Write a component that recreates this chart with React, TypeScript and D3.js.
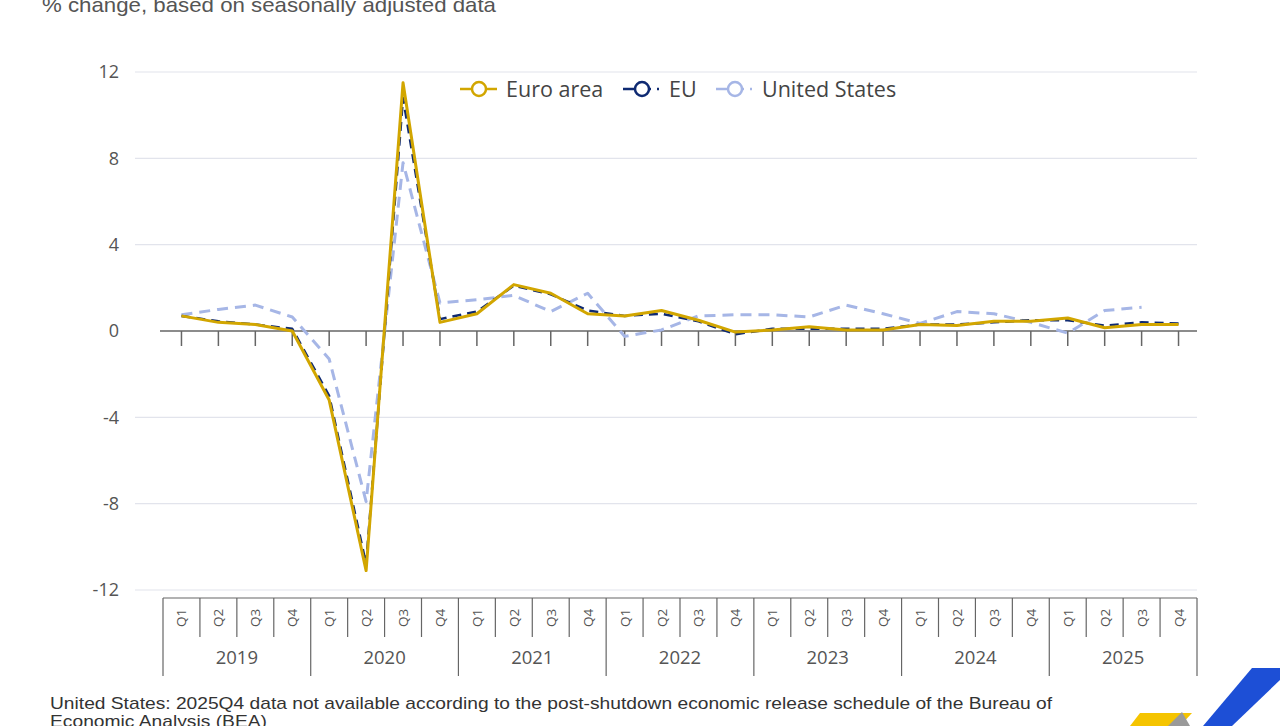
import { useRef, useEffect } from 'react'
import * as d3 from 'd3'

const years = ['2019', '2020', '2021', '2022', '2023', '2024', '2025']
const quarters = ['Q1', 'Q2', 'Q3', 'Q4']
const yTicks = [12, 8, 4, 0, -4, -8, -12]

const euroArea = [
	0.7, 0.4, 0.3, 0.0, -3.2, -11.1, 11.5, 0.4, 0.8, 2.15, 1.75, 0.8, 0.7, 0.95,
	0.5, -0.05, 0.05, 0.2, 0.05, 0.05, 0.3, 0.25, 0.45, 0.45, 0.6, 0.15, 0.3, 0.3,
]
const eu = [
	0.7, 0.45, 0.3, 0.1, -3.0, -10.8, 10.8, 0.55, 0.9, 2.1, 1.7, 0.95, 0.7, 0.8,
	0.45, -0.15, 0.1, 0.1, 0.1, 0.1, 0.3, 0.3, 0.4, 0.5, 0.5, 0.25, 0.4, 0.35,
]
const unitedStates: (number | null)[] = [
	0.75, 1.0, 1.2, 0.65, -1.3, -7.9, 7.8, 1.3, 1.45, 1.65, 0.9, 1.75, -0.25, 0.05,
	0.7, 0.75, 0.75, 0.65, 1.2, 0.8, 0.35, 0.9, 0.8, 0.4, -0.1, 0.95, 1.1, null,
]

const series = [
	{ name: 'Euro area', values: euroArea, color: '#d2a600', width: 3, dash: '' },
	{ name: 'EU', values: eu, color: '#0f2a72', width: 2.5, dash: '9,6' },
	{ name: 'United States', values: unitedStates, color: '#a6b6e6', width: 3, dash: '11,7' },
]

const App = () => {
	const svgRef = useRef<SVGSVGElement | null>(null)

	useEffect(() => {
		if (!svgRef.current) return
		const width = 1280
		const height = 726
		const left = 163
		const right = 1197
		const top = 72
		const bottom = 590

		const svg = d3.select(svgRef.current).attr('width', width).attr('height', height)
		svg.selectAll('*').remove()

		const cats = years.flatMap((y) => quarters.map((q) => `${y}${q}`))

		const x = d3.scaleBand().domain(cats).range([left, right]).padding(0)
		const y = d3.scaleLinear().domain([-12, 12]).range([bottom, top])
		const cx = (i: number) => x(cats[i])! + x.bandwidth() / 2

		// subtitle (cut at top in the original)
		svg
			.append('text')
			.attr('x', 42)
			.attr('y', 12)
			.attr('font-family', 'Liberation Sans, Arial, sans-serif')
			.attr('font-size', 21)
			.attr('fill', '#555')
			.attr('textLength', 454)
			.attr('lengthAdjust', 'spacingAndGlyphs')
			.text('% change, based on seasonally adjusted data')

		// grid
		svg
			.append('g')
			.selectAll('line')
			.data(yTicks.filter((t) => t !== 0))
			.enter()
			.append('line')
			.attr('x1', 135)
			.attr('x2', right)
			.attr('y1', (d) => y(d))
			.attr('y2', (d) => y(d))
			.attr('stroke', '#e2e4ec')
			.attr('stroke-width', 1.2)

		svg
			.append('g')
			.selectAll('text')
			.data(yTicks)
			.enter()
			.append('text')
			.attr('x', 119)
			.attr('y', (d) => y(d))
			.attr('dy', '0.35em')
			.attr('text-anchor', 'end')
			.attr('font-family', 'Open Sans, Noto Sans, sans-serif')
			.attr('font-size', 18)
			.attr('fill', '#555')
			.text((d) => d)

		// zero line and ticks
		svg
			.append('line')
			.attr('x1', left - 3)
			.attr('x2', right)
			.attr('y1', y(0))
			.attr('y2', y(0))
			.attr('stroke', '#666')
			.attr('stroke-width', 1.5)

		svg
			.append('g')
			.selectAll('line')
			.data(cats)
			.enter()
			.append('line')
			.attr('x1', (_, i) => cx(i))
			.attr('x2', (_, i) => cx(i))
			.attr('y1', y(0))
			.attr('y2', y(0) + 15)
			.attr('stroke', '#666')
			.attr('stroke-width', 1.5)

		// category box
		const boxTop = 598
		const boxMid = 637
		const boxBottom = 676
		svg
			.append('line')
			.attr('x1', left)
			.attr('x2', right)
			.attr('y1', boxTop)
			.attr('y2', boxTop)
			.attr('stroke', '#666')
			.attr('stroke-width', 1.2)

		const bw = x.bandwidth()
		svg
			.append('g')
			.selectAll('line')
			.data(d3.range(cats.length + 1))
			.enter()
			.append('line')
			.attr('x1', (i) => left + i * bw)
			.attr('x2', (i) => left + i * bw)
			.attr('y1', boxTop)
			.attr('y2', (i) => (i % 4 === 0 ? boxBottom : boxMid))
			.attr('stroke', '#666')
			.attr('stroke-width', 1.2)

		svg
			.append('g')
			.selectAll('text')
			.data(cats)
			.enter()
			.append('text')
			.attr('transform', (_, i) => `translate(${cx(i) + 5},${618}) rotate(-90)`)
			.attr('text-anchor', 'middle')
			.attr('font-family', 'Open Sans, Noto Sans, sans-serif')
			.attr('font-size', 13.5)
			.attr('fill', '#555')
			.text((_, i) => quarters[i % 4])

		svg
			.append('g')
			.selectAll('text')
			.data(years)
			.enter()
			.append('text')
			.attr('x', (_, i) => left + (i * 4 + 2) * bw)
			.attr('y', 658)
			.attr('dy', '0.35em')
			.attr('text-anchor', 'middle')
			.attr('font-family', 'Open Sans, Noto Sans, sans-serif')
			.attr('font-size', 18.5)
			.attr('fill', '#555')
			.text((d) => d)

		// lines, US drawn first so euro area sits on top
		const line = d3
			.line<number | null>()
			.defined((d) => d !== null)
			.x((_, i) => cx(i))
			.y((d) => y(d as number))

		;[...series].reverse().forEach((s) => {
			svg
				.append('path')
				.datum(s.values)
				.attr('d', line)
				.attr('fill', 'none')
				.attr('stroke', s.color)
				.attr('stroke-width', s.width)
				.attr('stroke-dasharray', s.dash)
				.attr('stroke-linejoin', 'round')
		})

		// legend
		const legendX = [460, 623, 716]
		const legend = svg.append('g')
		series.forEach((s, i) => {
			const g = legend.append('g').attr('transform', `translate(${legendX[i]},89)`)
			g.append('line')
				.attr('x1', 0)
				.attr('x2', 12)
				.attr('stroke', s.color)
				.attr('stroke-width', 2.5)
			g.append('line')
				.attr('x1', 26)
				.attr('x2', 37)
				.attr('stroke', s.color)
				.attr('stroke-width', 2.5)
				.attr('stroke-dasharray', i === 0 ? '' : '2,6')
			g.append('circle')
				.attr('cx', 19)
				.attr('r', 7)
				.attr('fill', '#fff')
				.attr('stroke', s.color)
				.attr('stroke-width', 2.5)
			g.append('text')
				.attr('x', 46)
				.attr('dy', '0.35em')
				.attr('font-family', 'Open Sans, Noto Sans, sans-serif')
				.attr('font-size', 21.5)
				.attr('fill', '#444')
				.text(s.name)
		})

		// footnote
		const foot = svg
			.append('g')
			.attr('font-family', 'Liberation Sans, Arial, sans-serif')
			.attr('font-size', 17)
			.attr('fill', '#333')
		foot
			.append('text')
			.attr('x', 50)
			.attr('y', 709)
			.attr('textLength', 1002)
			.attr('lengthAdjust', 'spacingAndGlyphs')
			.text(
				'United States: 2025Q4 data not available according to the post-shutdown economic release schedule of the Bureau of'
			)
		foot
			.append('text')
			.attr('x', 50)
			.attr('y', 727)
			.attr('textLength', 217)
			.attr('lengthAdjust', 'spacingAndGlyphs')
			.text('Economic Analysis (BEA)')

		// corner logo
		svg
			.append('polygon')
			.attr('points', '1252,668 1280,668 1280,680 1232,726 1203,726')
			.attr('fill', '#1d4fd6')
		svg
			.append('polygon')
			.attr('points', '1140,713 1192,713 1180,726 1130,726')
			.attr('fill', '#f5c400')
		svg
			.append('polygon')
			.attr('points', '1168,726 1182,712 1190,726')
			.attr('fill', '#9a9a9a')
	}, [])

	return (
		<div style={{ position: 'fixed', left: 0, top: 0, background: '#fff' }}>
			<svg ref={svgRef}></svg>
		</div>
	)
}

export default App
